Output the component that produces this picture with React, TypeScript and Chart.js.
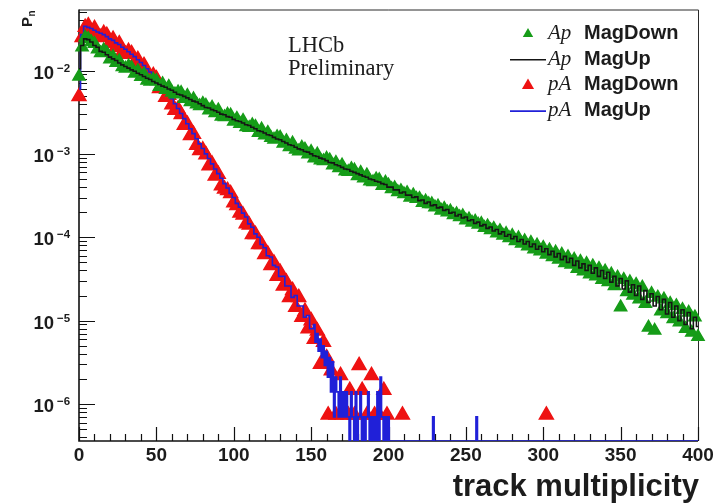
import React, { useEffect, useRef } from "react";
import { Chart, registerables } from "chart.js";

Chart.register(...registerables);

// Inclusive list of bin centres from start to stop.
const range = (start: number, stop: number, step: number): number[] => {
  const out: number[] = [];
  for (let v = start; v <= stop; v += step) out.push(v);
  return out;
};

// ---------------------------------------------------------------------------
// Track-multiplicity distributions P_n (normalised per bin)
// ---------------------------------------------------------------------------

// Ap collisions, bins of 2 tracks from 0 to 400
const apBins = range(0, 400, 2);

const apMagDown = [
  8.5e-3, 1.9e-2, 2.5e-2, 2.4e-2, 2.2e-2, 2.1e-2, 1.8e-2, 1.62e-2, 1.76e-2, 1.63e-2,
  1.37e-2, 1.46e-2, 1.24e-2, 1.3e-2, 1.1e-2, 1.06e-2, 1.13e-2, 1.08e-2, 9.2e-3, 9.9e-3,
  8.4e-3, 9.0e-3, 7.6e-3, 7.4e-3, 7.8e-3, 7.5e-3, 6.4e-3, 6.9e-3, 5.9e-3, 6.4e-3,
  5.45e-3, 5.2e-3, 5.5e-3, 5.4e-3, 4.6e-3, 5.0e-3, 4.2e-3, 4.55e-3, 3.95e-3, 3.75e-3,
  4.0e-3, 3.8e-3, 3.35e-3, 3.6e-3, 3.1e-3, 3.35e-3, 2.82e-3, 2.78e-3, 2.97e-3, 2.9e-3,
  2.45e-3, 2.65e-3, 2.3e-3, 2.5e-3, 2.1e-3, 2.06e-3, 2.22e-3, 2.12e-3, 1.79e-3, 1.97e-3,
  1.67e-3, 1.8e-3, 1.56e-3, 1.49e-3, 1.6e-3, 1.57e-3, 1.33e-3, 1.43e-3, 1.21e-3, 1.34e-3,
  1.13e-3, 1.08e-3, 1.19e-3, 1.13e-3, 9.9e-4, 1.06e-3, 8.9e-4, 9.9e-4, 8.4e-4, 8.2e-4,
  8.8e-4, 8.4e-4, 7.3e-4, 7.85e-4, 6.8e-4, 7.3e-4, 6.2e-4, 6.1e-4, 6.6e-4, 6.35e-4,
  5.45e-4, 5.95e-4, 5.1e-4, 5.55e-4, 4.7e-4, 4.6e-4, 4.98e-4, 4.88e-4, 4.15e-4, 4.55e-4,
  4.2e-4, 3.8e-4, 3.9e-4, 3.5e-4, 3.6e-4, 3.3e-4, 3.4e-4, 3.0e-4, 3.2e-4, 2.9e-4,
  2.9e-4, 2.6e-4, 2.7e-4, 2.5e-4, 2.5e-4, 2.3e-4, 2.35e-4, 2.1e-4, 2.2e-4, 2.0e-4,
  2.05e-4, 1.85e-4, 1.9e-4, 1.75e-4, 1.8e-4, 1.6e-4, 1.65e-4, 1.5e-4, 1.55e-4, 1.42e-4,
  1.45e-4, 1.3e-4, 1.36e-4, 1.22e-4, 1.27e-4, 1.12e-4, 1.19e-4, 1.05e-4, 1.1e-4, 9.8e-5,
  1.04e-4, 9.0e-5, 9.8e-5, 8.4e-5, 9.0e-5, 7.8e-5, 8.6e-5, 7.2e-5, 8.0e-5, 6.8e-5,
  7.5e-5, 6.2e-5, 7.0e-5, 5.8e-5, 6.6e-5, 5.4e-5, 6.2e-5, 4.9e-5, 5.8e-5, 4.7e-5,
  5.4e-5, 4.2e-5, 5.1e-5, 3.9e-5, 4.8e-5, 3.6e-5, 4.5e-5, 3.4e-5, 4.2e-5, 3.1e-5,
  3.9e-5, 2.9e-5, 3.6e-5, 2.6e-5, 3.3e-5, 1.45e-5, 3.1e-5, 2.2e-5, 2.9e-5, 2.0e-5,
  2.7e-5, 1.8e-5, 2.5e-5, 1.6e-5, 8.3e-6, 2.1e-5, 7.6e-6, 1.9e-5, 1.3e-5, 1.8e-5,
  1.2e-5, 1.6e-5, 1.05e-5, 1.5e-5, 9.6e-6, 1.35e-5, 8.0e-6, 1.25e-5, 7.2e-6, 1.1e-5,
  6.4e-6,
];

const apMagUp = [
  1.05e-2, 2.0e-2, 2.4e-2, 2.35e-2, 2.2e-2, 2.0e-2, 1.9e-2, 1.7e-2, 1.66e-2, 1.55e-2,
  1.45e-2, 1.38e-2, 1.32e-2, 1.23e-2, 1.17e-2, 1.12e-2, 1.07e-2, 1.02e-2, 9.8e-3, 9.3e-3,
  8.9e-3, 8.5e-3, 8.1e-3, 7.8e-3, 7.4e-3, 7.1e-3, 6.8e-3, 6.5e-3, 6.3e-3, 6.0e-3,
  5.8e-3, 5.5e-3, 5.2e-3, 5.1e-3, 4.9e-3, 4.7e-3, 4.5e-3, 4.3e-3, 4.2e-3, 4.0e-3,
  3.8e-3, 3.6e-3, 3.55e-3, 3.4e-3, 3.3e-3, 3.16e-3, 3.0e-3, 2.95e-3, 2.8e-3, 2.75e-3,
  2.6e-3, 2.5e-3, 2.45e-3, 2.35e-3, 2.24e-3, 2.19e-3, 2.09e-3, 2.0e-3, 1.9e-3, 1.86e-3,
  1.78e-3, 1.7e-3, 1.66e-3, 1.58e-3, 1.51e-3, 1.48e-3, 1.41e-3, 1.35e-3, 1.29e-3, 1.26e-3,
  1.2e-3, 1.15e-3, 1.12e-3, 1.07e-3, 1.05e-3, 1.0e-3, 9.5e-4, 9.3e-4, 8.9e-4, 8.7e-4,
  8.3e-4, 7.9e-4, 7.8e-4, 7.4e-4, 7.2e-4, 6.9e-4, 6.6e-4, 6.5e-4, 6.2e-4, 6.0e-4,
  5.8e-4, 5.6e-4, 5.4e-4, 5.25e-4, 5.0e-4, 4.9e-4, 4.7e-4, 4.6e-4, 4.4e-4, 4.3e-4,
  4.0e-4, 4.0e-4, 3.7e-4, 3.7e-4, 3.4e-4, 3.5e-4, 3.2e-4, 3.2e-4, 3.0e-4, 3.05e-4,
  2.75e-4, 2.8e-4, 2.55e-4, 2.65e-4, 2.4e-4, 2.45e-4, 2.25e-4, 2.3e-4, 2.1e-4, 2.15e-4,
  1.95e-4, 2.0e-4, 1.8e-4, 1.88e-4, 1.7e-4, 1.75e-4, 1.58e-4, 1.62e-4, 1.47e-4, 1.52e-4,
  1.37e-4, 1.42e-4, 1.28e-4, 1.33e-4, 1.19e-4, 1.24e-4, 1.1e-4, 1.16e-4, 1.03e-4, 1.08e-4,
  9.6e-5, 1.02e-4, 8.9e-5, 9.4e-5, 8.3e-5, 8.9e-5, 7.7e-5, 8.3e-5, 7.2e-5, 7.8e-5,
  6.7e-5, 7.3e-5, 6.2e-5, 6.8e-5, 5.8e-5, 6.4e-5, 5.4e-5, 5.9e-5, 5.0e-5, 5.6e-5,
  4.6e-5, 5.2e-5, 4.3e-5, 4.8e-5, 4.0e-5, 4.6e-5, 3.7e-5, 4.3e-5, 3.4e-5, 4.0e-5,
  3.2e-5, 3.8e-5, 2.9e-5, 3.4e-5, 2.6e-5, 3.2e-5, 2.4e-5, 3.0e-5, 2.2e-5, 2.7e-5,
  2.0e-5, 2.6e-5, 1.8e-5, 2.3e-5, 1.65e-5, 2.1e-5, 1.5e-5, 1.95e-5, 1.35e-5, 1.8e-5,
  1.2e-5, 1.65e-5, 1.1e-5, 1.5e-5, 1.0e-5, 1.35e-5, 9.0e-6, 1.25e-5, 8.0e-6, 1.1e-5,
  8.5e-6,
];

// pA collisions, MagDown: bins of 2 tracks up to 160, then single-bin tail entries
const paDownBins = range(0, 160, 2);
const paMagDown = [
  4.9e-3, 2.5e-2, 3.3e-2, 3.45e-2, 2.85e-2, 3.2e-2, 2.6e-2, 2.5e-2, 2.8e-2, 2.65e-2,
  2.12e-2, 2.38e-2, 1.9e-2, 2.1e-2, 1.66e-2, 1.57e-2, 1.7e-2, 1.6e-2, 1.27e-2, 1.36e-2,
  1.08e-2, 1.15e-2, 9.0e-3, 8.2e-3, 8.75e-3, 8.0e-3, 6.1e-3, 6.35e-3, 4.8e-3, 5.05e-3,
  3.9e-3, 3.35e-3, 3.45e-3, 2.97e-3, 2.2e-3, 2.27e-3, 1.66e-3, 1.72e-3, 1.27e-3, 1.1e-3,
  1.12e-3, 9.8e-4, 7.2e-4, 7.55e-4, 5.45e-4, 5.7e-4, 4.15e-4, 3.8e-4, 3.65e-4, 3.35e-4,
  2.6e-4, 2.4e-4, 1.95e-4, 1.85e-4, 1.45e-4, 1.4e-4, 1.08e-4, 1.08e-4, 8.2e-5, 8.2e-5,
  6.2e-5, 6.3e-5, 4.6e-5, 4.9e-5, 3.4e-5, 3.8e-5, 2.6e-5, 2.9e-5, 1.9e-5, 2.3e-5,
  1.45e-5, 1.9e-5, 1.1e-5, 1.3e-5, 8.0e-6, 1.0e-5, 6.0e-6, 7.5e-6, 3.0e-6, 5.5e-6,
  3.6e-6,
];
const paDownTailBins = [161, 163, 166, 169, 170, 174, 175, 178, 181, 183, 186, 189, 191, 194, 197, 199, 209, 302];
const paMagDownTail = [
  7.4e-7, 2.5e-6, 7.4e-7, 2.2e-6, 7.4e-7, 7.4e-7, 1.46e-6, 7.4e-7, 2.9e-6, 1.46e-6,
  7.4e-7, 2.2e-6, 7.4e-7, 7.4e-7, 1.46e-6, 7.4e-7, 7.4e-7, 7.4e-7,
];

// pA collisions, MagUp: bins of 2 tracks up to 150, single bins in the tail (0 = empty bin)
const paUpBins = range(0, 150, 2);
const paMagUp = [
  6.0e-3, 2.7e-2, 3.4e-2, 3.3e-2, 3.2e-2, 3.05e-2, 2.9e-2, 2.8e-2, 2.7e-2, 2.55e-2,
  2.4e-2, 2.3e-2, 2.15e-2, 2.05e-2, 1.9e-2, 1.8e-2, 1.68e-2, 1.57e-2, 1.47e-2, 1.35e-2,
  1.25e-2, 1.15e-2, 1.05e-2, 9.6e-3, 8.8e-3, 8.0e-3, 7.2e-3, 6.4e-3, 5.7e-3, 5.1e-3,
  4.6e-3, 4.0e-3, 3.5e-3, 3.05e-3, 2.65e-3, 2.3e-3, 2.0e-3, 1.75e-3, 1.52e-3, 1.32e-3,
  1.16e-3, 1.0e-3, 8.8e-4, 7.6e-4, 6.6e-4, 5.8e-4, 5.1e-4, 4.4e-4, 3.9e-4, 3.35e-4,
  3.0e-4, 2.55e-4, 2.3e-4, 1.95e-4, 1.75e-4, 1.45e-4, 1.32e-4, 1.1e-4, 1.0e-4, 8.2e-5,
  7.5e-5, 6.0e-5, 5.8e-5, 4.6e-5, 4.4e-5, 3.4e-5, 3.4e-5, 2.6e-5, 2.6e-5, 1.9e-5,
  2.0e-5, 1.5e-5, 1.5e-5, 1.1e-5, 1.15e-5, 8.0e-6,
];
const paUpTailBins = [...range(151, 201, 1), 228, 229, 230, 256, 257, 258, 400];
const paMagUpTail = [
  8.0e-6, 9.0e-6, 5.5e-6, 7.0e-6, 4.3e-6, 6.0e-6, 3.6e-6, 5.0e-6, 2.9e-6, 4.3e-6,
  2.1e-6, 3.6e-6, 1.4e-6, 3.2e-6, 7e-7, 2.1e-6, 1.4e-6, 7e-7, 2.1e-6, 7e-7,
  1.4e-6, 7e-7, 1.4e-6, 7e-7, 0, 1.4e-6, 7e-7, 0, 1.4e-6, 0,
  7e-7, 1.4e-6, 0, 7e-7, 0, 7e-7, 1.4e-6, 0, 7e-7, 0,
  7e-7, 0, 1.4e-6, 0, 2.1e-6, 7e-7, 0, 7e-7, 0, 7e-7,
  0,
  0, 7e-7, 0, 0, 7e-7, 0, 0,
];

// Axis ranges and labelling
const X_MIN = 0;
const X_MAX = 400;
const Y_MIN = 3.6e-7;
const Y_MAX = 0.054;
const xTicks = [0, 50, 100, 150, 200, 250, 300, 350, 400];
const xMinorStep = 10;
const yDecades = [-6, -5, -4, -3, -2];

const legendOrder = ["Ap MagDown", "Ap MagUp", "pA MagDown", "pA MagUp"];

// Styling
const GREEN = "#169c18";
const BLACK = "#151515";
const RED = "#ee1212";
const BLUE = "#2020d8";
const INK = "#1c1c1c";
const SANS = '"Liberation Sans", Arial, Helvetica, sans-serif';
const SERIF = '"Liberation Serif", "Times New Roman", serif';

type Pt = { x: number; y: number };
const toPoints = (bins: number[], values: number[]): Pt[] =>
  bins.map((x, i) => ({ x, y: values[i] > 0 ? values[i] : Y_MIN }));

function fillText(
  ctx: CanvasRenderingContext2D,
  s: string,
  x: number,
  y: number,
  font: string,
  align: CanvasTextAlign = "left"
) {
  ctx.font = font;
  ctx.textAlign = align;
  ctx.textBaseline = "alphabetic";
  ctx.fillText(s, x, y);
}

function triangle(ctx: CanvasRenderingContext2D, cx: number, cy: number, r: number, color: string) {
  ctx.beginPath();
  for (let k = 0; k < 3; k++) {
    const a = -Math.PI / 2 + (k * 2 * Math.PI) / 3;
    const px = cx + Math.cos(a) * r;
    const py = cy + Math.sin(a) * r;
    if (k === 0) ctx.moveTo(px, py);
    else ctx.lineTo(px, py);
  }
  ctx.closePath();
  ctx.fillStyle = color;
  ctx.fill();
}

// ROOT-style frame: inward ticks, drawn beneath the data
const frameBelow = {
  id: "frameBelow",
  beforeDatasetsDraw(chart: any) {
    const { ctx, chartArea: a } = chart;
    const xs = chart.scales.x;
    const ys = chart.scales.y;
    ctx.save();
    ctx.strokeStyle = "#2a2a2a";
    ctx.lineWidth = 1;
    ctx.beginPath();
    ctx.moveTo(a.left, a.top + 0.5);
    ctx.lineTo(a.right + 0.5, a.top + 0.5);
    ctx.lineTo(a.right + 0.5, a.bottom);
    ctx.stroke();

    ctx.strokeStyle = "#111";
    ctx.lineWidth = 1.6;
    ctx.beginPath();
    ctx.moveTo(a.left, a.top);
    ctx.lineTo(a.left, a.bottom);
    ctx.lineTo(a.right, a.bottom);
    ctx.stroke();

    ctx.lineWidth = 1.2;
    ctx.beginPath();
    for (let v = X_MIN; v <= X_MAX; v += xMinorStep) {
      const px = Math.round(xs.getPixelForValue(v)) + 0.5;
      const len = xTicks.includes(v) ? 14 : 7;
      ctx.moveTo(px, a.bottom);
      ctx.lineTo(px, a.bottom - len);
    }
    for (let e = -7; e <= -1; e++) {
      for (let m = 1; m <= 9; m++) {
        const v = m * Math.pow(10, e);
        if (v < Y_MIN || v > Y_MAX) continue;
        const py = Math.round(ys.getPixelForValue(v)) + 0.5;
        const len = m === 1 ? 16 : 8;
        ctx.moveTo(a.left, py);
        ctx.lineTo(a.left + len, py);
      }
    }
    ctx.stroke();
    ctx.restore();
  },
  afterDraw(chart: any) {
    const { ctx, chartArea: a } = chart;
    const xs = chart.scales.x;
    const ys = chart.scales.y;
    ctx.save();
    ctx.fillStyle = INK;

    // x tick labels
    for (const v of xTicks) {
      fillText(ctx, String(v), xs.getPixelForValue(v), a.bottom + 20, `bold 19px ${SANS}`, "center");
    }
    // y tick labels: 10 with a superscript exponent
    for (const e of yDecades) {
      const py = ys.getPixelForValue(Math.pow(10, e));
      fillText(ctx, "10", 54, py + 8, `bold 18.5px ${SANS}`, "right");
      fillText(ctx, String(e).replace("-", "\u2212"), 57, py + 1, `bold 11.5px ${SANS}`, "left");
    }
    // axis titles
    fillText(ctx, "track multiplicity", 699, 496, `bold 31px ${SANS}`, "right");
    ctx.save();
    ctx.translate(32, 27);
    ctx.rotate(-Math.PI / 2);
    fillText(ctx, "P", 0, 0, `bold 15px ${SANS}`, "left");
    fillText(ctx, "n", 10.5, 3, `bold 10px ${SANS}`, "left");
    ctx.restore();

    // experiment tag
    fillText(ctx, "LHCb", 288, 52, `22.5px ${SERIF}`, "left");
    fillText(ctx, "Preliminary", 288, 75, `22.5px ${SERIF}`, "left");

    // legend
    legendOrder.forEach((label, i) => {
      const ds = chart.data.datasets.find((d: any) => d.label === label);
      if (!ds) return;
      const base = 39 + i * 25.7;
      const cy = base - 5;
      if (ds.showLine === false) {
        triangle(ctx, 528, cy, ds.legendRadius, ds.pointBackgroundColor);
      } else {
        ctx.strokeStyle = ds.borderColor;
        ctx.lineWidth = ds.borderWidth;
        ctx.beginPath();
        ctx.moveTo(510, cy);
        ctx.lineTo(546, cy);
        ctx.stroke();
      }
      const [system, ...rest] = label.split(" ");
      ctx.fillStyle = INK;
      fillText(ctx, system, 548, base, `italic 21px ${SERIF}`, "left");
      fillText(ctx, rest.join(" "), 584, base, `bold 20px ${SANS}`, "left");
    });
    ctx.restore();
  },
};

export default function App() {
  const ref = useRef<HTMLCanvasElement>(null);

  useEffect(() => {
    const canvas = ref.current;
    if (!canvas) return;
    const chart = new Chart(canvas, {
      type: "line",
      data: {
        datasets: [
          {
            label: "Ap MagUp",
            data: toPoints(apBins, apMagUp),
            borderColor: BLACK,
            borderWidth: 1.6,
            pointRadius: 0,
            stepped: "middle",
            fill: false,
            order: 1,
          },
          {
            label: "Ap MagDown",
            data: toPoints(apBins, apMagDown),
            showLine: false,
            pointStyle: "triangle",
            pointRadius: 7,
            legendRadius: 6,
            pointBackgroundColor: GREEN,
            pointBorderColor: GREEN,
            pointBorderWidth: 1.5,
            clip: false,
            order: 2,
          },
          {
            label: "pA MagUp",
            data: [...toPoints(paUpBins, paMagUp), ...toPoints(paUpTailBins, paMagUpTail)],
            borderColor: BLUE,
            borderWidth: 1.6,
            pointRadius: 0,
            stepped: "middle",
            fill: false,
            order: 3,
          },
          {
            label: "pA MagDown",
            data: [...toPoints(paDownBins, paMagDown), ...toPoints(paDownTailBins, paMagDownTail)],
            showLine: false,
            pointStyle: "triangle",
            pointRadius: 8,
            legendRadius: 7,
            pointBackgroundColor: RED,
            pointBorderColor: RED,
            pointBorderWidth: 1.5,
            clip: false,
            order: 4,
          },
        ] as any,
      },
      options: {
        animation: false,
        responsive: false,
        maintainAspectRatio: false,
        devicePixelRatio: 1,
        events: [],
        layout: { padding: { left: 79, right: 24, top: 7, bottom: 63 } },
        scales: {
          x: { type: "linear", min: X_MIN, max: X_MAX, display: false },
          y: { type: "logarithmic", min: Y_MIN, max: Y_MAX, display: false },
        },
        plugins: {
          legend: { display: false },
          tooltip: { enabled: false },
        },
      },
      plugins: [frameBelow],
    });
    return () => chart.destroy();
  }, []);

  return (
    <div style={{ position: "absolute", left: 0, top: 0, width: 722, height: 504, background: "#fff" }}>
      <canvas ref={ref} width={722} height={504} style={{ display: "block" }} />
    </div>
  );
}
